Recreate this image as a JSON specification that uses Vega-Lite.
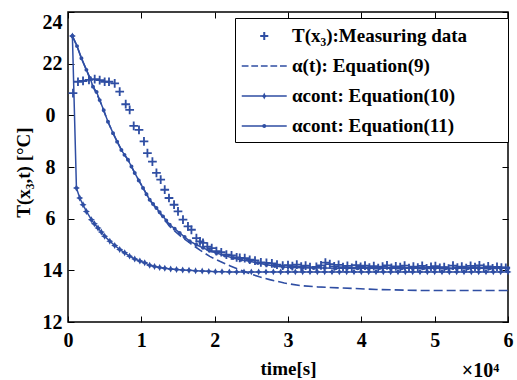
{
  "$schema": "https://vega.github.io/schema/vega-lite/v6.json",
  "width": 440,
  "height": 310,
  "autosize": {"type": "none"},
  "padding": {"left": 68, "top": 12, "right": 9, "bottom": 58},
  "background": "white",
  "config": {
    "view": {"stroke": "#000", "strokeWidth": 1.5},
    "font": "Liberation Serif",
    "axis": {
      "domain": false, "grid": false, "tickColor": "#000", "tickWidth": 1, "tickSize": -6,
      "labelFont": "Liberation Serif", "labelFontSize": 20, "labelFontWeight": "bold", "labelColor": "#000",
      "titleFont": "Liberation Serif", "titleFontSize": 19, "titleFontWeight": "bold", "titleColor": "#000",
      "labelFlush": false, "labelOverlap": false
    }
  },
  "data": {"values": [
    {"s":"a","t":680,"T":20.86},{"s":"a","t":1360,"T":21.30},{"s":"a","t":2050,"T":21.33},{"s":"a","t":2860,"T":21.37},{"s":"a","t":3640,"T":21.40},{"s":"a","t":4320,"T":21.36},{"s":"a","t":5000,"T":21.30},{"s":"a","t":5590,"T":21.30},{"s":"a","t":6370,"T":21.24},{"s":"a","t":7050,"T":20.92},{"s":"a","t":7870,"T":20.43},{"s":"a","t":8410,"T":20.21},{"s":"a","t":8960,"T":19.59},{"s":"a","t":9680,"T":19.44},{"s":"a","t":10360,"T":18.99},{"s":"a","t":10830,"T":18.54},{"s":"a","t":11510,"T":18.21},{"s":"a","t":12060,"T":17.77},{"s":"a","t":12640,"T":17.51},{"s":"a","t":13190,"T":17.12},{"s":"a","t":13770,"T":16.80},{"s":"a","t":14460,"T":16.54},{"s":"a","t":15000,"T":16.28},{"s":"a","t":15680,"T":15.96},{"s":"a","t":16360,"T":15.70},{"s":"a","t":16830,"T":15.57},{"s":"a","t":17510,"T":15.25},{"s":"a","t":18000,"T":15.12},{"s":"a","t":18410,"T":15.06},{"s":"a","t":19000,"T":14.92},{"s":"a","t":19600,"T":14.86},{"s":"a","t":20240,"T":14.74},{"s":"a","t":20900,"T":14.70},{"s":"a","t":21600,"T":14.61},{"s":"a","t":22300,"T":14.58},{"s":"a","t":23000,"T":14.50},{"s":"a","t":23420,"T":14.48},{"s":"a","t":24100,"T":14.47},{"s":"a","t":24780,"T":14.41},{"s":"a","t":25500,"T":14.38},{"s":"a","t":26300,"T":14.31},{"s":"a","t":27060,"T":14.29},{"s":"a","t":27800,"T":14.27},{"s":"a","t":28500,"T":14.22},{"s":"a","t":29280,"T":14.18},{"s":"a","t":30000,"T":14.20},{"s":"a","t":30600,"T":14.16},{"s":"a","t":31200,"T":14.22},{"s":"a","t":31800,"T":14.14},{"s":"a","t":32400,"T":14.18},{"s":"a","t":33000,"T":14.12},{"s":"a","t":33870,"T":14.13},{"s":"a","t":34500,"T":14.19},{"s":"a","t":35100,"T":14.30},{"s":"a","t":35700,"T":14.24},{"s":"a","t":36300,"T":14.15},{"s":"a","t":36900,"T":14.21},{"s":"a","t":37500,"T":14.12},{"s":"a","t":38100,"T":14.17},{"s":"a","t":38700,"T":14.10},{"s":"a","t":39300,"T":14.20},{"s":"a","t":39900,"T":14.13},{"s":"a","t":40500,"T":14.18},{"s":"a","t":41100,"T":14.11},{"s":"a","t":41700,"T":14.16},{"s":"a","t":42300,"T":14.09},{"s":"a","t":42900,"T":14.14},{"s":"a","t":43500,"T":14.19},{"s":"a","t":44100,"T":14.10},{"s":"a","t":44700,"T":14.15},{"s":"a","t":45300,"T":14.12},{"s":"a","t":45900,"T":14.18},{"s":"a","t":46500,"T":14.09},{"s":"a","t":47100,"T":14.14},{"s":"a","t":47700,"T":14.11},{"s":"a","t":48300,"T":14.17},{"s":"a","t":48900,"T":14.08},{"s":"a","t":49500,"T":14.13},{"s":"a","t":50100,"T":14.16},{"s":"a","t":50700,"T":14.10},{"s":"a","t":51300,"T":14.12},{"s":"a","t":51900,"T":14.07},{"s":"a","t":52500,"T":14.18},{"s":"a","t":53100,"T":14.11},{"s":"a","t":53700,"T":14.14},{"s":"a","t":54300,"T":14.09},{"s":"a","t":54900,"T":14.17},{"s":"a","t":55500,"T":14.12},{"s":"a","t":56100,"T":14.19},{"s":"a","t":56700,"T":14.10},{"s":"a","t":57300,"T":14.15},{"s":"a","t":57900,"T":14.08},{"s":"a","t":58500,"T":14.13},{"s":"a","t":59100,"T":14.11},{"s":"a","t":59700,"T":14.10},
    {"s":"b","t":600,"T":23.07},{"s":"b","t":1230,"T":22.68},{"s":"b","t":1830,"T":22.21},{"s":"b","t":2510,"T":21.76},{"s":"b","t":3410,"T":21.11},{"s":"b","t":4320,"T":20.59},{"s":"b","t":5450,"T":19.75},{"s":"b","t":6140,"T":19.31},{"s":"b","t":7280,"T":18.66},{"s":"b","t":8180,"T":18.28},{"s":"b","t":9100,"T":17.77},{"s":"b","t":10230,"T":17.19},{"s":"b","t":11140,"T":16.73},{"s":"b","t":12060,"T":16.38},{"s":"b","t":12960,"T":16.04},{"s":"b","t":13870,"T":15.70},{"s":"b","t":15230,"T":15.35},{"s":"b","t":16600,"T":15.06},{"s":"b","t":18000,"T":14.78},{"s":"b","t":19330,"T":14.54},{"s":"b","t":20700,"T":14.35},{"s":"b","t":22050,"T":14.18},{"s":"b","t":23400,"T":14.02},{"s":"b","t":24780,"T":13.87},{"s":"b","t":26100,"T":13.75},{"s":"b","t":27510,"T":13.64},{"s":"b","t":29500,"T":13.51},{"s":"b","t":31600,"T":13.41},{"s":"b","t":34000,"T":13.36},{"s":"b","t":37050,"T":13.32},{"s":"b","t":42060,"T":13.26},{"s":"b","t":47920,"T":13.22},{"s":"b","t":53000,"T":13.22},{"s":"b","t":60000,"T":13.22},
    {"s":"c","t":600,"T":23.07},{"s":"c","t":1150,"T":17.19},{"s":"c","t":1600,"T":16.80},{"s":"c","t":2050,"T":16.54},{"s":"c","t":2510,"T":16.28},{"s":"c","t":3190,"T":15.96},{"s":"c","t":3600,"T":15.80},{"s":"c","t":4090,"T":15.64},{"s":"c","t":4550,"T":15.48},{"s":"c","t":5000,"T":15.32},{"s":"c","t":5700,"T":15.13},{"s":"c","t":6370,"T":14.96},{"s":"c","t":7050,"T":14.81},{"s":"c","t":7730,"T":14.68},{"s":"c","t":8400,"T":14.55},{"s":"c","t":9100,"T":14.44},{"s":"c","t":9800,"T":14.36},{"s":"c","t":10460,"T":14.29},{"s":"c","t":11140,"T":14.20},{"s":"c","t":11800,"T":14.15},{"s":"c","t":12500,"T":14.11},{"s":"c","t":13200,"T":14.08},{"s":"c","t":14000,"T":14.05},{"s":"c","t":14800,"T":14.03},{"s":"c","t":15640,"T":14.01},{"s":"c","t":16500,"T":14.00},{"s":"c","t":17400,"T":13.98},{"s":"c","t":18300,"T":13.97},{"s":"c","t":19200,"T":13.96},{"s":"c","t":20100,"T":13.95},{"s":"c","t":21000,"T":13.95},{"s":"c","t":22000,"T":13.94},{"s":"c","t":23000,"T":13.94},{"s":"c","t":24000,"T":13.94},{"s":"c","t":25000,"T":13.94},{"s":"c","t":26000,"T":13.94},{"s":"c","t":27000,"T":13.94},{"s":"c","t":28000,"T":13.94},{"s":"c","t":29000,"T":13.94},{"s":"c","t":30000,"T":13.94},{"s":"c","t":31000,"T":13.94},{"s":"c","t":32000,"T":13.94},{"s":"c","t":33000,"T":13.94},{"s":"c","t":34000,"T":13.94},{"s":"c","t":35000,"T":13.94},{"s":"c","t":36000,"T":13.94},{"s":"c","t":37000,"T":13.94},{"s":"c","t":38000,"T":13.94},{"s":"c","t":39000,"T":13.94},{"s":"c","t":40000,"T":13.94},{"s":"c","t":41000,"T":13.94},{"s":"c","t":42000,"T":13.94},{"s":"c","t":43000,"T":13.94},{"s":"c","t":44000,"T":13.94},{"s":"c","t":45000,"T":13.94},{"s":"c","t":46000,"T":13.94},{"s":"c","t":47000,"T":13.94},{"s":"c","t":48000,"T":13.94},{"s":"c","t":49000,"T":13.94},{"s":"c","t":50000,"T":13.94},{"s":"c","t":51000,"T":13.94},{"s":"c","t":52000,"T":13.94},{"s":"c","t":53000,"T":13.94},{"s":"c","t":54000,"T":13.94},{"s":"c","t":55000,"T":13.94},{"s":"c","t":56000,"T":13.94},{"s":"c","t":57000,"T":13.94},{"s":"c","t":58000,"T":13.94},{"s":"c","t":59000,"T":13.94},{"s":"c","t":60000,"T":13.94},
    {"s":"d","t":600,"T":23.07},{"s":"d","t":1230,"T":22.68},{"s":"d","t":1830,"T":22.21},{"s":"d","t":2510,"T":21.76},{"s":"d","t":3000,"T":21.45},{"s":"d","t":3410,"T":21.11},{"s":"d","t":3900,"T":20.90},{"s":"d","t":4320,"T":20.59},{"s":"d","t":4870,"T":20.20},{"s":"d","t":5450,"T":19.75},{"s":"d","t":6140,"T":19.31},{"s":"d","t":6700,"T":18.98},{"s":"d","t":7280,"T":18.66},{"s":"d","t":7700,"T":18.47},{"s":"d","t":8180,"T":18.28},{"s":"d","t":8650,"T":18.02},{"s":"d","t":9100,"T":17.77},{"s":"d","t":9650,"T":17.48},{"s":"d","t":10230,"T":17.19},{"s":"d","t":10700,"T":16.95},{"s":"d","t":11140,"T":16.73},{"s":"d","t":11600,"T":16.57},{"s":"d","t":12060,"T":16.41},{"s":"d","t":12500,"T":16.25},{"s":"d","t":12960,"T":16.09},{"s":"d","t":13400,"T":15.93},{"s":"d","t":13870,"T":15.77},{"s":"d","t":14550,"T":15.61},{"s":"d","t":15230,"T":15.45},{"s":"d","t":15900,"T":15.29},{"s":"d","t":16600,"T":15.13},{"s":"d","t":17500,"T":14.99},{"s":"d","t":18410,"T":14.87},{"s":"d","t":19300,"T":14.76},{"s":"d","t":20240,"T":14.67},{"s":"d","t":21400,"T":14.57},{"s":"d","t":22500,"T":14.48},{"s":"d","t":23600,"T":14.41},{"s":"d","t":24780,"T":14.35},{"s":"d","t":25900,"T":14.28},{"s":"d","t":27060,"T":14.22},{"s":"d","t":28200,"T":14.17},{"s":"d","t":29320,"T":14.13},{"s":"d","t":30500,"T":14.11},{"s":"d","t":32000,"T":14.10},{"s":"d","t":33500,"T":14.09},{"s":"d","t":35000,"T":14.09},{"s":"d","t":36500,"T":14.08},{"s":"d","t":38000,"T":14.09},{"s":"d","t":39500,"T":14.08},{"s":"d","t":41000,"T":14.08},{"s":"d","t":42500,"T":14.09},{"s":"d","t":44000,"T":14.08},{"s":"d","t":45500,"T":14.08},{"s":"d","t":47000,"T":14.08},{"s":"d","t":48500,"T":14.09},{"s":"d","t":50000,"T":14.08},{"s":"d","t":51500,"T":14.08},{"s":"d","t":53000,"T":14.08},{"s":"d","t":54500,"T":14.08},{"s":"d","t":56000,"T":14.08},{"s":"d","t":57500,"T":14.08},{"s":"d","t":59000,"T":14.08},{"s":"d","t":60000,"T":14.08}
  ]},
  "resolve": {"axis": {"x": "independent", "y": "independent"}, "scale": {"shape": "independent"}},
  "layer": [
    {
      "transform": [{"filter": "datum.s == 'c' || datum.s == 'd'"}],
      "mark": {"type": "line", "color": "#2f4ea3", "strokeWidth": 1.5},
      "encoding": {
        "x": {"field": "t", "type": "quantitative", "scale": {"domain": [0, 60000], "nice": false},
              "axis": {"values": [0, 10000, 20000, 30000, 40000, 50000, 60000], "labelExpr": "datum.value / 10000", "title": "time[s]", "labelPadding": 14, "titlePadding": 9}},
        "y": {"field": "T", "type": "quantitative", "scale": {"domain": [12, 24], "nice": false, "zero": false},
              "axis": {"values": [12, 14, 16, 18, 20, 22, 24], "labelExpr": "datum.value == 20 ? '0' : datum.value == 18 ? '8' : datum.value == 16 ? '6' : datum.label",
                       "labelBaseline": {"condition": {"test": "datum.value == 24", "value": "top"}, "value": "middle"},
                       "labelPadding": {"condition": {"test": "datum.value >= 16 && datum.value <= 20", "value": 19}, "value": 12},
                       "title": "T(x₃,t) [°C]", "titlePadding": 9, "titleY": 160}},
        "detail": {"field": "s"}
      }
    },
    {
      "transform": [{"filter": "datum.s == 'b'"}],
      "mark": {"type": "line", "color": "#2f4ea3", "strokeWidth": 1.6, "strokeDash": [9, 4]},
      "encoding": {
        "x": {"field": "t", "type": "quantitative",
              "axis": {"orient": "top", "values": [0, 10000, 20000, 30000, 40000, 50000, 60000], "labels": false, "title": null}},
        "y": {"field": "T", "type": "quantitative", "axis": null}
      }
    },
    {
      "transform": [{"filter": "datum.s != 'b'"}],
      "mark": {"type": "point", "filled": true, "color": "#2f4ea3", "size": 76, "opacity": 1},
      "encoding": {
        "x": {"field": "t", "type": "quantitative",
              "axis": {"orient": "bottom", "labels": false, "ticks": false, "title": "×10⁴", "titleX": 412, "titleY": 48, "titleFontSize": 20, "titleBaseline": "middle", "titleAlign": "center", "titleAngle": 0}},
        "y": {"field": "T", "type": "quantitative",
              "axis": {"orient": "right", "values": [12, 14, 16, 18, 20, 22, 24], "labels": false, "title": null}},
        "shape": {
          "field": "s", "type": "nominal", "legend": null,
          "scale": {"domain": ["a", "c", "d"],
                    "range": ["M-1,-0.21H-0.21V-1H0.21V-0.21H1V0.21H0.21V1H-0.21V0.21H-1Z",
                              "M0,-0.8L0.28,-0.28L0.8,0L0.28,0.28L0,0.8L-0.28,0.28L-0.8,0L-0.28,-0.28Z",
                              "M0.45,0A0.45,0.45 0 1,1 -0.45,0A0.45,0.45 0 1,1 0.45,0Z"]}
        }
      }
    },
    {
      "transform": [{"filter": "false"}],
      "mark": {"type": "point", "filled": true, "color": "#2f4ea3", "opacity": 1},
      "encoding": {
        "x": {"field": "t", "type": "quantitative", "axis": null},
        "y": {"field": "T", "type": "quantitative", "axis": null},
        "shape": {
          "field": "s", "type": "nominal",
          "scale": {"domain": ["a", "b", "c", "d"],
                    "range": ["M0.64,-0.09H0.91V-0.36H1.09V-0.09H1.36V0.09H1.09V0.36H0.91V0.09H0.64Z M21.8,0L21.8,0.001L21.801,0Z",
                              "M-1,-0.07H-0.4V0.07H-1Z M-0.15,-0.07H0.45V0.07H-0.15Z M0.7,-0.07H1.3V0.07H0.7Z M1.55,-0.07H2.15V0.07H1.55Z M2.4,-0.07H3V0.07H2.4Z",
                              "M-1,-0.07H3V0.07H-1Z M1,-0.32L1.1,-0.1L1.32,0L1.1,0.1L1,0.32L0.9,0.1L0.68,0L0.9,-0.1Z",
                              "M-1,-0.07H3V0.07H-1Z M1.18,0A0.18,0.18 0 1,1 0.82,0A0.18,0.18 0 1,1 1.18,0Z"]},
          "legend": {
            "orient": "none", "legendX": 167, "legendY": 6, "title": null,
            "fillColor": "white", "strokeColor": "black", "padding": 6,
            "symbolSize": 506, "labelOffset": 27, "rowPadding": 8,
            "labelFont": "Liberation Serif", "labelFontSize": 19, "labelFontWeight": "bold", "labelColor": "#000", "labelLimit": 400,
            "labelExpr": "datum.value == 'a' ? 'T(x₃):Measuring data' : datum.value == 'b' ? 'α(t): Equation(9)' : datum.value == 'c' ? 'αcont: Equation(10)' : 'αcont: Equation(11)'"
          }
        }
      }
    }
  ]
}
